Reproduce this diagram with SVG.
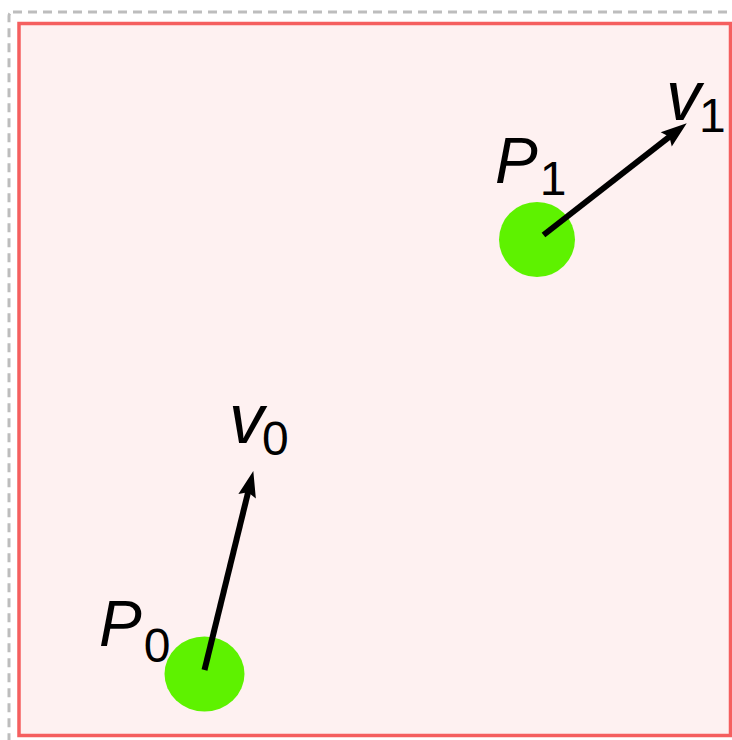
<svg xmlns="http://www.w3.org/2000/svg" width="732" height="740" viewBox="0 0 732 740">
  <defs>
    <style>
      .lbl { font-family: "Liberation Sans", Arial, sans-serif; fill: #000; }
      .main { font-style: italic; font-size: 64px; }
      .v { font-style: italic; font-size: 70px; }
      .sub { font-size: 48px; }
      .pt { fill: #5ef200; }
      .vec { stroke: #000; stroke-width: 6; fill: none; marker-end: url(#ah); }
    </style>
    <marker id="ah" markerUnits="userSpaceOnUse" markerWidth="30" markerHeight="22" refX="12" refY="11" orient="auto" overflow="visible">
      <path d="M0,2 L26,11 L0,20 L4,11 z" fill="#000"/>
    </marker>
  </defs>
  <rect x="9" y="12" width="740" height="740" rx="4" fill="none" stroke="#bdbdbd" stroke-width="3" stroke-dasharray="9 6"/>
  <rect x="19" y="23.5" width="711.5" height="712" fill="#fef1f1" stroke="#f55f5f" stroke-width="3.5"/>
  <g id="P0">
    <ellipse class="pt" cx="204.5" cy="674" rx="40" ry="37.5"/>
    <text class="lbl main" x="99" y="646">P<tspan class="sub" font-style="normal" dx="2" dy="16">0</tspan></text>
  </g>
  <g id="P1">
    <ellipse class="pt" cx="537" cy="239.5" rx="38" ry="37.5"/>
    <text class="lbl main" x="495" y="183">P<tspan class="sub" font-style="normal" dx="2" dy="12">1</tspan></text>
  </g>
  <g id="connectors">
    <g id="v0">
      <line class="vec" x1="204.5" y1="670" x2="249.97" y2="484.6"/>
      <text class="lbl v" x="229" y="443">v<tspan class="sub" font-style="normal" dx="-2" dy="12">0</tspan></text>
    </g>
    <g id="v1">
      <line class="vec" x1="543.5" y1="235" x2="675.7" y2="131.9"/>
      <text class="lbl v" x="666" y="120">v<tspan class="sub" font-style="normal" dx="-2" dy="12">1</tspan></text>
    </g>
  </g>
</svg>
